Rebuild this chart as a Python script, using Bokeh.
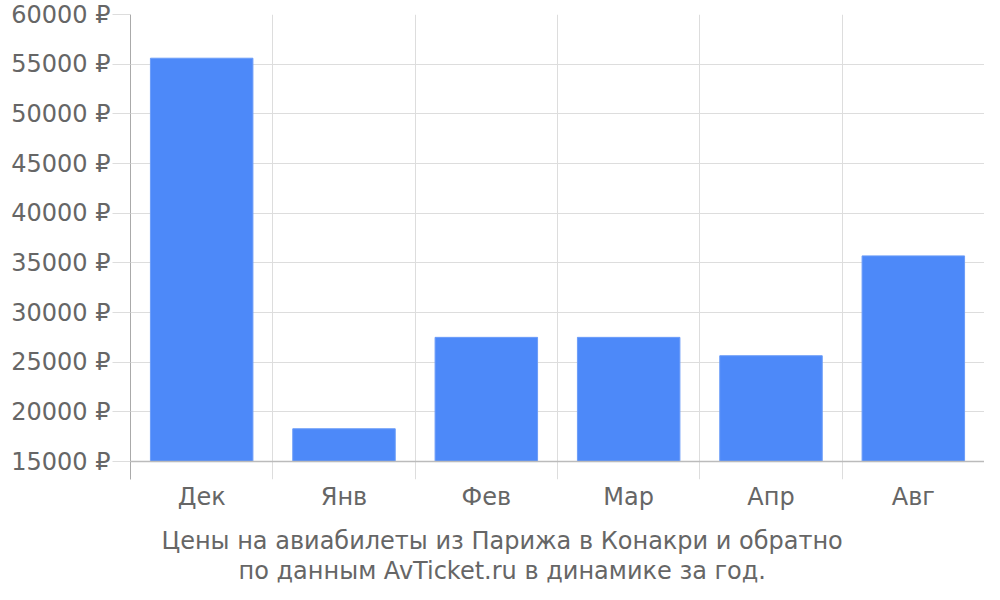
from bokeh.plotting import figure
from bokeh.models import FixedTicker, Span, Title, ColumnDataSource, Range1d
from bokeh.embed import file_html
from bokeh.resources import INLINE

months = ["Дек", "Янв", "Фев", "Мар", "Апр", "Авг"]
prices = [55600, 18300, 27500, 27500, 25650, 35700]
y_ticks = [15000, 20000, 25000, 30000, 35000, 40000, 45000, 50000, 55000, 60000]
title_lines = ["Цены на авиабилеты из Парижа в Конакри и обратно",
               "по данным AvTicket.ru в динамике за год."]
title_offsets = [31, 108]

FONT = "DejaVu Sans"
TXT = "#666666"

x_pos = [i + 0.5 for i in range(len(months))]
src = ColumnDataSource(dict(x=x_pos, top=prices, month=months))

y_base = 15000
y_top = 60000
extra = (y_top - y_base) * 18 / 448.0

p = figure(width=984, height=584, output_backend="svg", toolbar_location=None,
           x_range=Range1d(0, len(months)), y_range=Range1d(y_base - extra, y_top),
           min_border_left=130, min_border_right=0, min_border_top=14, min_border_bottom=0)
p.outline_line_color = None

p.vbar(x="x", top="top", bottom=y_base, width=0.72, source=src,
       fill_color="#4d89f9", line_color="#6b9cf8", line_width=1)

# y axis
p.yaxis.ticker = FixedTicker(ticks=y_ticks)
p.yaxis.major_label_overrides = {t: f"{t} ₽" for t in y_ticks}
p.yaxis.major_label_text_font = FONT
p.yaxis.major_label_text_font_size = "24px"
p.yaxis.major_label_text_color = TXT
p.yaxis.major_tick_out = 18
p.yaxis.major_tick_in = 0
p.yaxis.major_tick_line_color = "#dddddd"
p.yaxis.minor_tick_line_color = None
p.yaxis.axis_line_color = "#aaaaaa"
p.yaxis.major_label_standoff = 2

# x axis
p.xaxis.ticker = FixedTicker(ticks=x_pos)
p.xaxis.major_label_overrides = {x: m for x, m in zip(x_pos, months)}
p.xaxis.major_label_text_font = FONT
p.xaxis.major_label_text_font_size = "24px"
p.xaxis.major_label_text_color = TXT
p.xaxis.major_tick_line_color = None
p.xaxis.major_tick_out = 0
p.xaxis.minor_tick_line_color = None
p.xaxis.axis_line_color = None
p.xaxis.major_label_standoff = 3

p.ygrid.ticker = FixedTicker(ticks=y_ticks)
p.ygrid.grid_line_color = "#dddddd"
p.xgrid.ticker = FixedTicker(ticks=list(range(len(months) + 1)))
p.xgrid.grid_line_color = "#dddddd"

p.add_layout(Span(location=y_base, dimension="width", line_color="#bbbbbb", line_width=1.5))

# spacer between axis labels and the caption
p.add_layout(Title(text=" ", text_font_size="8px", standoff=0), "below")
for line, off in zip(title_lines, title_offsets):
    t = Title(text=line, align="left", text_font=FONT, text_font_size="24px",
              text_color=TXT, text_font_style="normal", standoff=0, offset=off)
    p.add_layout(t, "below")

open("out.html", "w").write(file_html(p, INLINE))
